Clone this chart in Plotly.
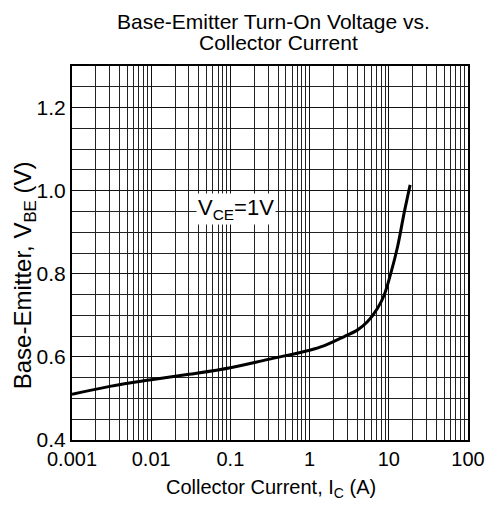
import plotly.graph_objects as go

ic_amps = [0.001, 0.003, 0.01, 0.03, 0.1, 0.3, 1, 1.54, 2.74, 4.04, 5.40, 7.21, 8.75, 10.6, 12.9, 15.6, 18.6]
vbe_volts = [0.510, 0.529, 0.545, 0.558, 0.574, 0.594, 0.616, 0.627, 0.649, 0.665, 0.685, 0.717, 0.749, 0.801, 0.865, 0.946, 1.014]

x_ticks = [0.001, 0.01, 0.1, 1, 10, 100]
x_tick_text = ["0.001", "0.01", "0.1", "1", "10", "100"]
y_ticks = [0.4, 0.6, 0.8, 1.0, 1.2]
y_tick_text = ["0.4", "0.6", "0.8", "1.0", "1.2"]

font = "Liberation Sans, Arial, sans-serif"

fig = go.Figure()
fig.add_trace(go.Scatter(
    x=ic_amps, y=vbe_volts, mode="lines",
    line=dict(color="black", width=3, shape="spline", smoothing=1.0),
    showlegend=False, hoverinfo="skip",
))

fig.add_annotation(
    x=-0.93, y=0.957, xref="x", yref="y",
    text="V<sub>CE</sub>=1V", showarrow=False,
    font=dict(family=font, size=22, color="black"),
    bgcolor="white", borderpad=1,
)

# chart title (two lines)
fig.add_annotation(
    x=0.509, y=1.119, xref="paper", yref="paper",
    xanchor="center", yanchor="middle",
    text="Base-Emitter Turn-On Voltage vs.",
    showarrow=False, font=dict(family=font, size=21, color="black"),
)
fig.add_annotation(
    x=0.5215, y=1.0615, xref="paper", yref="paper",
    xanchor="center", yanchor="middle",
    text="Collector Current",
    showarrow=False, font=dict(family=font, size=21, color="black"),
)
# axis titles
fig.add_annotation(
    x=0.502, y=-0.131, xref="paper", yref="paper",
    xanchor="center", yanchor="middle",
    text="Collector Current, I<sub>C</sub> (A)",
    showarrow=False, font=dict(family=font, size=20, color="black"),
)
fig.add_annotation(
    x=-0.119, y=0.44, xref="paper", yref="paper",
    xanchor="center", yanchor="middle", textangle=-90,
    text="Base-Emitter, V<sub>BE</sub> (V)",
    showarrow=False, font=dict(family=font, size=24, color="black"),
)

fig.update_layout(
    width=478, height=494,
    margin=dict(l=64, r=18, t=58, b=62),
    paper_bgcolor="white", plot_bgcolor="white",
    font=dict(family=font, size=20, color="black"),
)

fig.update_xaxes(
    type="log", range=[-3, 2], automargin=False,
    tickvals=x_ticks, ticktext=x_tick_text,
    ticklabeloverflow="allow",
    showgrid=True, gridcolor="#111", gridwidth=1,
    minor=dict(dtick="D1", showgrid=True, gridcolor="#222", gridwidth=1),
    showline=True, linecolor="black", linewidth=2, mirror=True,
    ticks="", zeroline=False,
    tickfont=dict(family=font, size=20),
)
fig.update_yaxes(
    range=[0.4, 1.3], automargin=False,
    tickvals=y_ticks, ticktext=y_tick_text,
    showgrid=True, gridcolor="#111", gridwidth=1,
    minor=dict(dtick=0.05, showgrid=True, gridcolor="#222", gridwidth=1),
    showline=True, linecolor="black", linewidth=2, mirror=True,
    ticks="", zeroline=False,
    tickfont=dict(family=font, size=21),
)

fig.write_html("out.html")
